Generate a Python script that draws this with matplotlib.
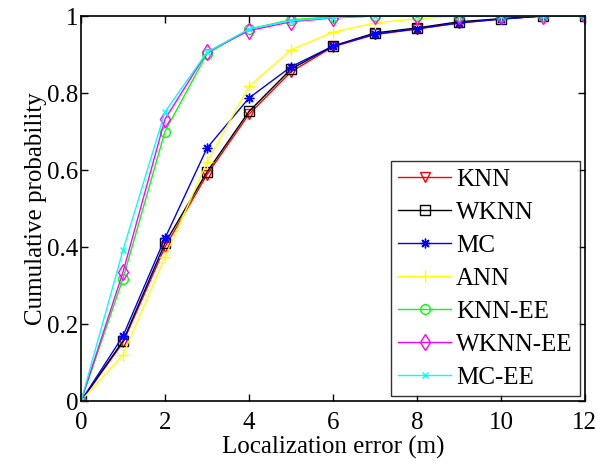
import numpy as np
import matplotlib
matplotlib.use("Agg")
import matplotlib.pyplot as plt

plt.rcParams['font.family'] = ['Liberation Serif', 'DejaVu Serif']
plt.rcParams['xtick.major.pad'] = 8
plt.rcParams['ytick.major.pad'] = 2

err = [0, 1, 2, 3, 4, 5, 6, 7, 8, 9, 10, 11, 12]

knn = [0, 0.152, 0.400, 0.588, 0.745, 0.855, 0.920, 0.952, 0.966, 0.982, 0.992, 1.0, 1.0]
wknn = [0, 0.156, 0.410, 0.595, 0.752, 0.862, 0.922, 0.956, 0.969, 0.985, 0.993, 1.0, 1.0]
mc = [0, 0.169, 0.423, 0.657, 0.787, 0.868, 0.922, 0.953, 0.967, 0.982, 0.992, 1.0, 1.0]
ann = [0, 0.120, 0.374, 0.620, 0.817, 0.912, 0.958, 0.982, 0.993, 1.0, 1.0, 1.0, 1.0]
knn_ee = [0, 0.318, 0.700, 0.902, 0.966, 0.990, 0.998, 1.0, 1.0, 1.0, 1.0, 1.0, 1.0]
wknn_ee = [0, 0.335, 0.732, 0.906, 0.962, 0.985, 0.995, 1.0, 1.0, 1.0, 1.0, 1.0, 1.0]
mc_ee = [0, 0.392, 0.751, 0.906, 0.966, 0.988, 0.996, 1.0, 1.0, 1.0, 1.0, 1.0, 1.0]

labels = ["KNN", "WKNN", "MC", "ANN", "KNN-EE", "WKNN-EE", "MC-EE"]
series = [knn, wknn, mc, ann, knn_ee, wknn_ee, mc_ee]
colors = ['#ff0000', '#000000', '#0000ff', '#ffff00', '#00ff00', '#ff00ff', '#00ffff']
# matlab-ish markers: v, s, * (8 spokes), +, o, d, x
markers = ['v', 's', (8, 2, 0), '+', 'o', 'd', 'x']
msizes = [7, 7, 7, 8, 7, 8, 4]

fig = plt.figure(figsize=(5.98, 4.67), dpi=100)
ax = fig.add_axes([0.1355, 0.1413, 0.8425, 0.8244])

for y, lab, c, m, ms in zip(series, labels, colors, markers, msizes):
    ax.plot(err, y, color=c, marker=m, markersize=ms, markerfacecolor='none',
            markeredgecolor=c, markeredgewidth=1.0, linewidth=1.0, label=lab)

ax.set_xlim(0, 12)
ax.set_ylim(0, 1)
ax.set_xticks(np.arange(0, 13, 2))
ax.set_yticks([0, 0.2, 0.4, 0.6, 0.8, 1])
ax.set_yticklabels(["0", "0.2", "0.4", "0.6", "0.8", "1"])
ax.tick_params(direction='in', top=True, right=True, labelsize=18, length=5, width=1)
for s in ax.spines.values():
    s.set_linewidth(1.2)

ax.set_xlabel('Localization error (m)', fontsize=18, labelpad=1.5)
ax.set_ylabel('Cumulative probability', fontsize=18, labelpad=0)

leg = ax.legend(loc='lower right', fontsize=18, frameon=True, fancybox=False,
                edgecolor='black', borderaxespad=0.2, handlelength=2.1,
                labelspacing=0.42, borderpad=0.3, handletextpad=0.2)
leg.get_frame().set_linewidth(1.0)

plt.savefig("out.png", dpi=100)
